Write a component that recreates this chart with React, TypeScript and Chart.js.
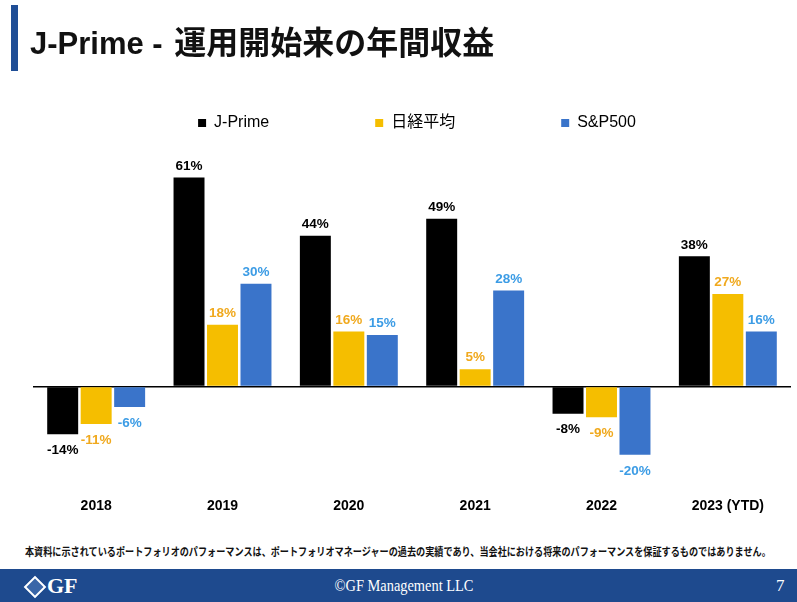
import React, { useEffect, useRef } from 'react';
import { Chart, registerables } from 'chart.js';

Chart.register(...registerables);

const categories = ['2018', '2019', '2020', '2021', '2022', '2023 (YTD)'];
const seriesNames = ['J-Prime', '日経平均', 'S&P500'];
const jPrime = [-14, 61, 44, 49, -8, 38];
const nikkei = [-11, 18, 16, 5, -9, 27];
const sp500 = [-6, 30, 15, 28, -20, 16];
const barColors = ['#000000', '#F5BE00', '#3A74CA'];
const labelColors = ['#000000', '#F0A91E', '#3C9CE5'];
const titleLatin = 'J-Prime - ';
const titleCjk = '運用開始来の年間収益';
const footnote =
  '本資料に示されているポートフォリオのパフォーマンスは、ポートフォリオマネージャーの過去の実績であり、当会社における将来のパフォーマンスを保証するものではありません。';
const copyright = '©GF Management LLC';
const pageNo = '7';

const SANS = '"Liberation Sans", Arial, "Noto Sans CJK JP", sans-serif';

const valueLabels = {
  id: 'valueLabels',
  afterDatasetsDraw(chart: any) {
    const ctx = chart.ctx;
    ctx.save();
    ctx.font = 'bold 13.5px ' + SANS;
    ctx.textAlign = 'center';
    ctx.textBaseline = 'middle';
    chart.data.datasets.forEach((ds: any, i: number) => {
      const meta = chart.getDatasetMeta(i);
      ctx.fillStyle = labelColors[i];
      meta.data.forEach((bar: any, j: number) => {
        const v = ds.data[j];
        const y = v >= 0 ? bar.y - 11.5 : bar.y + 16;
        ctx.fillText(v + '%', bar.x, y);
      });
    });
    ctx.restore();
  },
};

const legendShift = {
  id: 'legendShift',
  afterLayout(chart: any) {
    const l = chart.legend;
    if (l) {
      l.left += 5;
      l.right += 5;
    }
  },
};

export default function App() {
  const ref = useRef<HTMLCanvasElement | null>(null);

  useEffect(() => {
    if (!ref.current) return;
    const chart = new Chart(ref.current, {
      type: 'bar',
      data: {
        labels: categories,
        datasets: [jPrime, nikkei, sp500].map((d, i) => ({
          label: seriesNames[i],
          data: d,
          backgroundColor: barColors[i],
          borderWidth: 0,
          categoryPercentage: 0.795,
          barPercentage: 0.925,
        })),
      },
      options: {
        responsive: false,
        animation: false,
        devicePixelRatio: 1,
        layout: { padding: { top: 9, left: 33, right: 6, bottom: 0 } },
        plugins: {
          legend: {
            position: 'top',
            labels: {
              boxWidth: 8,
              boxHeight: 8,
              padding: 106,
              color: '#000',
              font: { family: SANS, size: 16 },
            },
          },
          tooltip: { enabled: false },
        },
        scales: {
          x: {
            grid: { display: false, drawTicks: false },
            border: { display: false },
            ticks: {
              padding: 15.5,
              color: '#000',
              font: { family: SANS, size: 14, weight: 'bold' },
            },
          },
          y: {
            min: -28,
            max: 71.7,
            afterFit: (s: any) => {
              s.width = 0;
            },
            border: { display: false },
            ticks: { display: false },
            grid: {
              drawTicks: false,
              lineWidth: 1.5,
              color: (c: any) => (c.tick && c.tick.value === 0 ? '#000' : 'rgba(0,0,0,0)'),
            },
          },
        },
      },
      plugins: [valueLabels, legendShift],
    } as any);
    return () => chart.destroy();
  }, []);

  return (
    <div
      style={{
        position: 'absolute',
        left: 0,
        top: 0,
        width: 797,
        height: 602,
        background: '#ffffff',
        overflow: 'hidden',
      }}
    >
      <canvas
        ref={ref}
        width={797}
        height={530}
        style={{ position: 'absolute', left: 0, top: 0, width: 797, height: 530 }}
      />
      <div style={{ position: 'absolute', left: 11, top: 5, width: 6.5, height: 66, background: '#1F4E96' }} />
      <div
        style={{
          position: 'absolute',
          left: 30,
          top: 20,
          height: 40,
          lineHeight: '40px',
          whiteSpace: 'nowrap',
          color: '#111',
          fontWeight: 700,
          fontFamily: SANS,
          fontSize: 31,
        }}
      >
        <span>{titleLatin}</span>
        <span style={{ fontFamily: '"Noto Sans CJK JP", sans-serif', fontSize: 32, marginLeft: 3 }}>{titleCjk}</span>
      </div>
      <div
        style={{
          position: 'absolute',
          left: 25,
          top: 543,
          whiteSpace: 'nowrap',
          fontFamily: '"Noto Sans CJK JP", sans-serif',
          fontWeight: 700,
          fontSize: 11,
          lineHeight: '16px',
          color: '#111',
          transform: 'scaleX(0.829)',
          transformOrigin: 'left center',
        }}
      >
        {footnote}
      </div>
      <div style={{ position: 'absolute', left: 0, top: 569, width: 797, height: 33, background: '#1E4A8E' }}>
        <div
          style={{
            position: 'absolute',
            left: 27,
            top: 10,
            width: 12,
            height: 12,
            border: '2px solid #fff',
            transform: 'rotate(45deg)',
            background: '#3a66a8',
          }}
        />
        <div
          style={{
            position: 'absolute',
            left: 47,
            top: 5,
            fontFamily: '"Liberation Serif", serif',
            fontWeight: 700,
            fontSize: 22,
            lineHeight: '24px',
            color: '#fff',
          }}
        >
          GF
        </div>
        <div
          style={{
            position: 'absolute',
            left: 404,
            top: 7,
            fontFamily: '"Liberation Serif", serif',
            fontSize: 16,
            lineHeight: '20px',
            color: '#fff',
            whiteSpace: 'nowrap',
            transform: 'translateX(-50%) scaleX(0.9)',
          }}
        >
          {copyright}
        </div>
        <div
          style={{
            position: 'absolute',
            left: 776,
            top: 7,
            fontFamily: '"Liberation Serif", serif',
            fontSize: 17,
            lineHeight: '20px',
            color: '#fff',
          }}
        >
          {pageNo}
        </div>
      </div>
    </div>
  );
}
